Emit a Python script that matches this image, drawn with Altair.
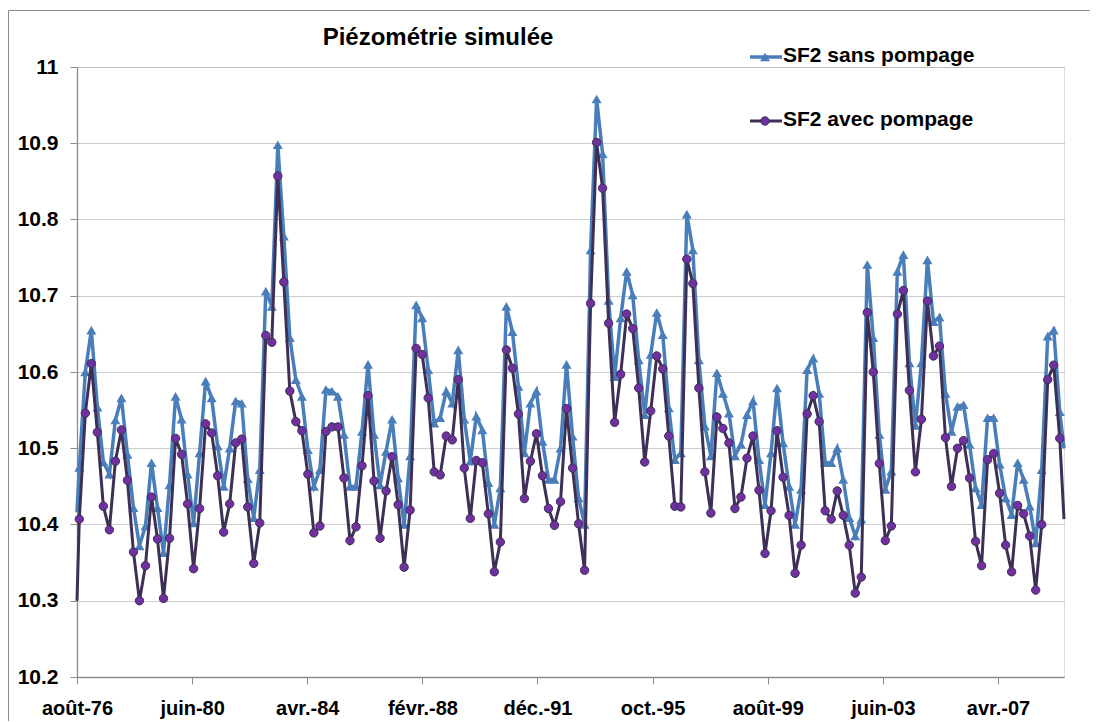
import json
import altair as alt
import pandas as pd

# ---------------- data ----------------
START = "1976-08-01"
FIRST_OFFSET_DAYS = 28      # first simulated step after the axis origin
STEP_DAYS = 73.15           # 5 time steps per year
AXIS_END_DAYS = 12003

sans_pompage = [10.416,
    10.475, 10.60, 10.655, 10.554, 10.482, 10.466, 10.537, 10.566, 10.492, 10.422,
    10.372, 10.398, 10.481, 10.422, 10.363, 10.452, 10.568, 10.538, 10.466, 10.402,
    10.494, 10.588, 10.566, 10.503, 10.45, 10.50, 10.562,
    10.559, 10.46, 10.409, 10.472, 10.706, 10.686, 10.898, 10.778, 10.645, 10.590,
    10.568, 10.498, 10.450, 10.472, 10.577, 10.575, 10.568, 10.518, 10.450, 10.450,
    10.522, 10.610, 10.518, 10.452, 10.496, 10.538, 10.461, 10.40,
    10.49, 10.688, 10.671, 10.603, 10.533, 10.54, 10.575, 10.559, 10.629, 10.538,
    10.483, 10.542, 10.524, 10.455, 10.40, 10.448, 10.686, 10.653, 10.581, 10.494,
    10.559, 10.575, 10.509, 10.459, 10.459, 10.50, 10.61,
    10.516, 10.435, 10.40, 10.76, 10.958, 10.886, 10.694, 10.594, 10.671, 10.732,
    10.701, 10.616, 10.544, 10.623, 10.678, 10.649, 10.553, 10.485, 10.494, 10.807,
    10.760, 10.616, 10.529, 10.49, 10.599, 10.572, 10.546, 10.49,
    10.505, 10.544, 10.562, 10.485, 10.426, 10.494, 10.579, 10.507, 10.45, 10.40,
    10.446, 10.603, 10.618, 10.572, 10.481, 10.481, 10.50, 10.459, 10.409, 10.385,
    10.407, 10.741, 10.645, 10.518, 10.446, 10.47, 10.732,
    10.754, 10.612, 10.53, 10.612, 10.747, 10.666, 10.672, 10.572, 10.522, 10.555,
    10.557, 10.505, 10.448, 10.426, 10.54, 10.54, 10.479, 10.435, 10.413, 10.481,
    10.459, 10.424, 10.376, 10.472, 10.647, 10.655, 10.548,
    10.50]

avec_pompage = [10.30,
    10.407, 10.546, 10.611, 10.521, 10.424, 10.393, 10.483, 10.524, 10.458, 10.364,
    10.300, 10.346, 10.436, 10.381, 10.303, 10.382, 10.513, 10.492, 10.427, 10.342,
    10.421, 10.532, 10.520, 10.464, 10.390, 10.427, 10.507,
    10.512, 10.423, 10.349, 10.402, 10.648, 10.639, 10.857, 10.718, 10.575, 10.535,
    10.523, 10.466, 10.389, 10.398, 10.522, 10.528, 10.528, 10.461, 10.379, 10.397,
    10.477, 10.569, 10.457, 10.382, 10.444, 10.489, 10.426, 10.344,
    10.419, 10.631, 10.623, 10.566, 10.469, 10.465, 10.516, 10.511, 10.590, 10.474,
    10.408, 10.484, 10.481, 10.414, 10.338, 10.377, 10.629, 10.605, 10.545, 10.434,
    10.483, 10.519, 10.464, 10.421, 10.399, 10.430, 10.552,
    10.474, 10.401, 10.340, 10.690, 10.901, 10.841, 10.664, 10.534, 10.597, 10.676,
    10.657, 10.579, 10.482, 10.549, 10.621, 10.604, 10.516, 10.424, 10.423, 10.748,
    10.716, 10.579, 10.469, 10.415, 10.541, 10.526, 10.507, 10.421,
    10.436, 10.487, 10.516, 10.445, 10.362, 10.418, 10.523, 10.462, 10.412, 10.336,
    10.373, 10.545, 10.569, 10.535, 10.418, 10.407, 10.444, 10.412, 10.373, 10.310,
    10.331, 10.678, 10.600, 10.480, 10.379, 10.398, 10.676,
    10.707, 10.576, 10.469, 10.538, 10.693, 10.621, 10.634, 10.514, 10.450, 10.500,
    10.510, 10.461, 10.378, 10.346, 10.485, 10.493, 10.441, 10.373, 10.338, 10.425,
    10.414, 10.385, 10.314, 10.400, 10.590, 10.609, 10.513,
    10.407]

series_names = ["SF2 sans pompage", "SF2 avec pompage"]
tick_dates = ["1976-08-01", "1980-06-01", "1984-04-01", "1988-02-01", "1991-12-01",
              "1995-10-01", "1999-08-01", "2003-06-01", "2007-04-01"]
tick_labels = ["août-76", "juin-80", "avr.-84", "févr.-88", "déc.-91",
               "oct.-95", "août-99", "juin-03", "avr.-07"]
y_ticks = [10.2, 10.3, 10.4, 10.5, 10.6, 10.7, 10.8, 10.9, 11.0]
title_text = ["Piézométrie simulée"]

# ---------------- table ----------------
n_regular = len(avec_pompage) - 2
days = [0.0] + [FIRST_OFFSET_DAYS + STEP_DAYS * i for i in range(n_regular)] + [AXIS_END_DAYS]
df = pd.DataFrame({"jour": days, "sans": sans_pompage, "avec": avec_pompage})
df["marker"] = [False] + [True] * n_regular + [False]
start = pd.Timestamp(START)
tick_days = [(pd.Timestamp(d) - start).days for d in tick_dates]

label_expr = "{}[indexof({}, datum.value)]".format(
    json.dumps(tick_labels, ensure_ascii=False), json.dumps(tick_days))

FONT = "Liberation Sans"
BLUE = "#4a7ebb"
DARK = "#3d2f55"
PURPLE = "#7030a0"
GREY = "#8c8c8c"

x_enc = alt.X("jour:Q",
              scale=alt.Scale(domain=[0, AXIS_END_DAYS], nice=False, zero=False),
              axis=alt.Axis(values=tick_days, labelExpr=label_expr, title=None, grid=False,
                            domainColor=GREY, domainWidth=1.3, tickColor=GREY, tickSize=7,
                            labelFont=FONT, labelFontSize=20, labelFontWeight="bold",
                            labelColor="black", labelPadding=14, labelFlush=False,
                            labelOverlap=False))
y_scale = alt.Scale(domain=[10.2, 11.0], nice=False, zero=False)
y_axis = alt.Axis(values=y_ticks, format="~g", title=None, grid=True,
                  gridColor="#9a9a9a", gridDash=[1, 1], gridWidth=1,
                  domainColor=GREY, domainWidth=1.3, tickColor=GREY, tickSize=7,
                  labelFont=FONT, labelFontSize=21, labelFontWeight="bold",
                  labelColor="black", labelPadding=12)

base = alt.Chart(df)

line_sans = base.mark_line(color=BLUE, strokeWidth=3.5).encode(
    x=x_enc, y=alt.Y("sans:Q", scale=y_scale, axis=y_axis))
pts_sans = base.transform_filter("datum.marker").mark_point(
    shape="triangle-up", filled=True, color=BLUE, size=100, opacity=1).encode(
    x="jour:Q", y="sans:Q")
line_avec = base.mark_line(color=DARK, strokeWidth=3).encode(
    x="jour:Q", y="avec:Q")
pts_avec = base.transform_filter("datum.marker").mark_point(
    shape="circle", filled=True, fill=PURPLE, stroke=DARK, strokeWidth=1,
    size=70, opacity=1).encode(x="jour:Q", y="avec:Q")

# ---------------- legend (drawn in the top-right corner) ----------------
leg = pd.DataFrame({"name": series_names})
leg_sans = alt.Chart(leg).transform_filter(alt.datum.name == series_names[0])
leg_avec = alt.Chart(leg).transform_filter(alt.datum.name == series_names[1])

legend_layers = [
    leg_sans.mark_rule(color=BLUE, strokeWidth=3.5).encode(
        x=alt.value(673), x2=alt.value(705), y=alt.value(-10)),
    leg_sans.mark_point(shape="triangle-up", filled=True, color=BLUE, size=100, opacity=1).encode(
        x=alt.value(688), y=alt.value(-10)),
    leg_sans.mark_text(align="left", baseline="middle", font=FONT, fontSize=21,
                       fontWeight="bold", color="black").encode(
        x=alt.value(706), y=alt.value(-11), text="name:N"),
    leg_avec.mark_rule(color=DARK, strokeWidth=3).encode(
        x=alt.value(673), x2=alt.value(705), y=alt.value(54)),
    leg_avec.mark_point(shape="circle", filled=True, fill=PURPLE, stroke=DARK,
                        strokeWidth=1, size=70, opacity=1).encode(
        x=alt.value(688), y=alt.value(54)),
    leg_avec.mark_text(align="left", baseline="middle", font=FONT, fontSize=21,
                       fontWeight="bold", color="black").encode(
        x=alt.value(706), y=alt.value(53), text="name:N"),
]

# chart title as a text mark above the plot
title = alt.Chart(pd.DataFrame({"t": title_text})).mark_text(
    align="center", baseline="alphabetic", font=FONT, fontSize=24,
    fontWeight="bold", color="black").encode(
    x=alt.value(361), y=alt.value(-22), text="t:N")

# outer chart-area frame: only its top and left edges are visible
frame = alt.Chart(leg).transform_filter(alt.datum.name == series_names[0])
frame_top = frame.mark_rule(color=GREY, strokeWidth=1).encode(
    x=alt.value(-68.5), x2=alt.value(1013), y=alt.value(-56.5))
frame_left = frame.mark_rule(color=GREY, strokeWidth=1).encode(
    x=alt.value(-68.5), y=alt.value(-56.5), y2=alt.value(654))

chart = alt.layer(
    frame_top, frame_left, line_sans, pts_sans, line_avec, pts_avec, title, *legend_layers
).properties(
    width=987, height=610,
    autosize=alt.AutoSizeParams(type="none"),
    padding={"left": 69, "top": 59, "right": 27, "bottom": 45},
).configure_view(stroke=None).configure(background="white")

chart.save("out.html", embed_options={"renderer": "svg", "actions": False})
